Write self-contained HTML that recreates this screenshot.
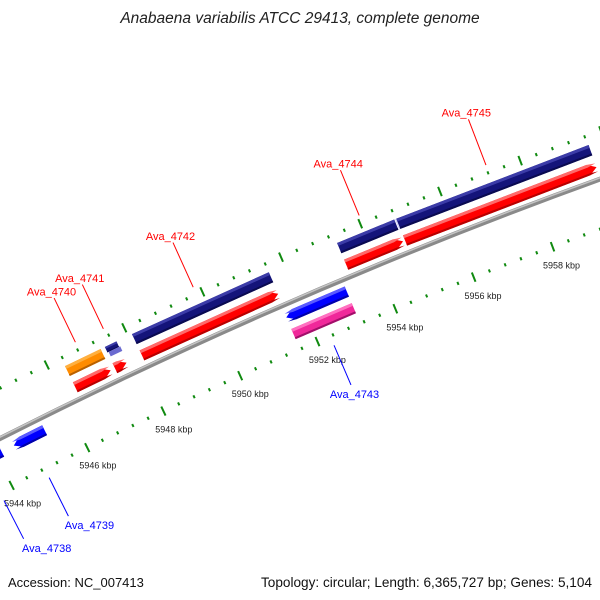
<!DOCTYPE html>
<html><head><meta charset="utf-8">
<style>
html,body{margin:0;padding:0;background:#fff;width:600px;height:600px;overflow:hidden;}
svg{display:block;font-family:"Liberation Sans",sans-serif;overflow:hidden;}
</style></head>
<body>
<svg id="chart" width="600" height="600" viewBox="0 0 600 600" xmlns="http://www.w3.org/2000/svg">
<text x="300" y="23" text-anchor="middle" font-size="15.5" font-style="italic" fill="#222">Anabaena variabilis ATCC 29413, complete genome</text>
<g id="ticks"></g>
<g id="backbone"></g>
<g id="features"></g>
<g id="labels"></g>
<text x="8" y="587" font-size="13" fill="#111">Accession: NC_007413</text>
<text x="592" y="587" text-anchor="end" font-size="13.6" fill="#111">Topology: circular; Length: 6,365,727 bp; Genes: 5,104</text>
</svg>
<script>
// ---- data ----
const geneNames  = ["Ava_4738","Ava_4739","Ava_4740","Ava_4741","Ava_4742","Ava_4743","Ava_4744","Ava_4745"];
const geneStarts = [5943.2, 5944.47, 5946.37, 5947.40, 5948.10, 5951.55, 5953.33, 5954.82];
const geneEnds   = [5944.15, 5945.28, 5947.29, 5947.70, 5951.60, 5953.10, 5954.77, 5959.62];
const geneStrand = [-1, -1, 1, 1, 1, -1, 1, 1];
const geneCdsKind = ["none","none","rna","misc","cds","cds","cds","cds"];
const labelDx    = [19, 17, 0, 0, 0, 0, 0, 0];
const tickStart = 5936, tickEnd = 5966, tickStep = 0.4, majorEvery = 2;

// ---- geometry (polar axis) ----
const CX = 2411, CY = 5191;
const R_BACK = 5329, R_OUT_TICK = 5374, R_IN_TICK = 5282;
function ang(k){ return (-26.10 + (k - 5946) * 0.4583) * Math.PI / 180; }
function pt(k, r){ const a = ang(k); return [CX + r * Math.sin(a), CY - r * Math.cos(a)]; }
const NS = "http://www.w3.org/2000/svg";
function mk(tag, parent, attrs){ const e = document.createElementNS(NS, tag); for (const k in attrs) e.setAttribute(k, attrs[k]); parent.appendChild(e); return e; }
function f(p){ return p[0].toFixed(2) + "," + p[1].toFixed(2); }
function band(k1, k2, r1, r2){ return "M" + f(pt(k1,r1)) + "L" + f(pt(k2,r1)) + "L" + f(pt(k2,r2)) + "L" + f(pt(k1,r2)) + "Z"; }
function arrow(k1, k2, r1, r2, dir){
  const h = 0.2, m = (r1 + r2) / 2;
  if (dir > 0) { const kb = Math.max(k1, k2 - h); return "M" + f(pt(k1,r1)) + "L" + f(pt(kb,r1)) + "L" + f(pt(k2,m)) + "L" + f(pt(kb,r2)) + "L" + f(pt(k1,r2)) + "Z"; }
  const kb = Math.min(k2, k1 + h); return "M" + f(pt(k2,r1)) + "L" + f(pt(kb,r1)) + "L" + f(pt(k1,m)) + "L" + f(pt(kb,r2)) + "L" + f(pt(k2,r2)) + "Z";
}

// ---- ticks ----
const tg = document.getElementById("ticks");
const nT = Math.round((tickEnd - tickStart) / tickStep);
for (let i = 0; i <= nT; i++) {
  const k = tickStart + i * tickStep;
  const major = Math.abs(k / majorEvery - Math.round(k / majorEvery)) < 1e-6;
  const half = major ? 5 : 1.6;
  [R_OUT_TICK, R_IN_TICK].forEach(function(r, j){
    const a = pt(k, r - half), b = pt(k, r + half);
    const l = mk("line", tg, {x1:a[0], y1:a[1], x2:b[0], y2:b[1], stroke:"#108a10", "stroke-width":2});
    
    
  });
  if (major) {
    const p = pt(k + 0.05, 5262);
    const t = mk("text", tg, {x:p[0], y:p[1] + 4, "text-anchor":"middle", "font-size":"9", fill:"#222"});
    t.textContent = Math.round(k) + " kbp";
    
    
  }
}

// ---- backbone ----
const bg = document.getElementById("backbone");
const b1 = pt(tickStart, R_BACK), b2 = pt(tickEnd, R_BACK);
const bp = mk("path", bg, {d:"M" + f(b1) + "A" + R_BACK + "," + R_BACK + " 0 0 1 " + f(b2), fill:"none", stroke:"#8a8a8a", "stroke-width":5});


const c1 = pt(tickStart, R_BACK + 1.3), c2 = pt(tickEnd, R_BACK + 1.3);
const bh = mk("path", bg, {d:"M" + f(c1) + "A" + (R_BACK+1.3) + "," + (R_BACK+1.3) + " 0 0 1 " + f(c2), fill:"none", stroke:"#c4c4c4", "stroke-width":1.5});



// ---- features ----
const fg = document.getElementById("features");
function bevelShape(d, dl, dd, col, light, dark, name){
  const g = mk("g", fg, {});
  
  
  mk("path", g, {d:d, fill:col});
  mk("path", g, {d:dl, fill:light});
  mk("path", g, {d:dd, fill:dark});
}
for (let i = 0; i < geneNames.length; i++) {
  const k1 = geneStarts[i], k2 = geneEnds[i], s = geneStrand[i];
  let r1, r2, col, light, dark;
  if (s > 0) { r1 = R_BACK + 7; r2 = R_BACK + 18; col = "#ff0000"; light = "#ff6a6a"; dark = "#b80000"; }
  else { r1 = R_BACK - 18; r2 = R_BACK - 7; col = "#0000ff"; light = "#5a5aff"; dark = "#0000a8"; }
  const top = r2, bot = r1;
  bevelShape(arrow(k1, k2, r1, r2, s), arrow(k1, k2, top - 3, top, s), arrow(k1, k2, bot, bot + 2, s), col, light, dark, 'gene-arrow-' + geneNames[i].toLowerCase().replace('_','-'));
  const kind = geneCdsKind[i];
  if (kind === "none") continue;
  let q1, q2;
  if (s > 0) { q1 = R_BACK + 25; q2 = R_BACK + 36; } else { q1 = R_BACK - 36; q2 = R_BACK - 25; }
  let pc = "#14147a", pl = "#3c3ca8", pd = "#0a0a50";
  if (kind === "rna") { pc = "#ff8c00"; pl = "#ffb040"; pd = "#b86000"; }
  if (s < 0) { pc = "#f0289a"; pl = "#ff70c0"; pd = "#a0106a"; }
  if (kind === "misc") {
    bevelShape(band(k1, k2, q1 + 5, q2), band(k1, k2, q2 - 2, q2), band(k1, k2, q1 + 5, q1 + 6), pc, pl, pd, 'cds-' + geneNames[i].toLowerCase().replace('_','-'));
    const g = mk("path", fg, {d:band(k1 + 0.03, k2 + 0.03, q1, q1 + 5), fill:"#6a6ad0"});
    
    
  } else {
    bevelShape(band(k1, k2, q1, q2), band(k1, k2, q2 - 3, q2), band(k1, k2, q1, q1 + 2), pc, pl, pd, 'cds-' + geneNames[i].toLowerCase().replace('_','-'));
  }
}
{ const a = pt(5954.80, R_BACK + 25), b = pt(5954.80, R_BACK + 36);
  const l = mk("line", fg, {x1:a[0], y1:a[1], x2:b[0], y2:b[1], stroke:"#c8c8ff", "stroke-width":0.8});
  
   }

// ---- labels ----
const lg = document.getElementById("labels");
for (let i = 0; i < geneNames.length; i++) {
  const s = geneStrand[i], mid = (geneStarts[i] + geneEnds[i]) / 2;
  const col = s > 0 ? "#ff0000" : "#0000ff";
  let a, b, p, by;
  if (s > 0) { a = pt(mid, 5382); b = pt(mid, 5431); p = pt(mid, 5437); by = p[1] + 3; }
  else { a = pt(mid, 5272); b = pt(mid, 5229); p = pt(mid, 5220); by = p[1] + 5; }
  const l = mk("line", lg, {x1:a[0], y1:a[1], x2:b[0], y2:b[1], stroke:col, "stroke-width":1});
  
  
  const t = mk("text", lg, {x:p[0] + labelDx[i], y:by, "text-anchor":"middle", "font-size":"11", fill:col});
  t.textContent = geneNames[i];
  
  
}
</script>
</body></html>
